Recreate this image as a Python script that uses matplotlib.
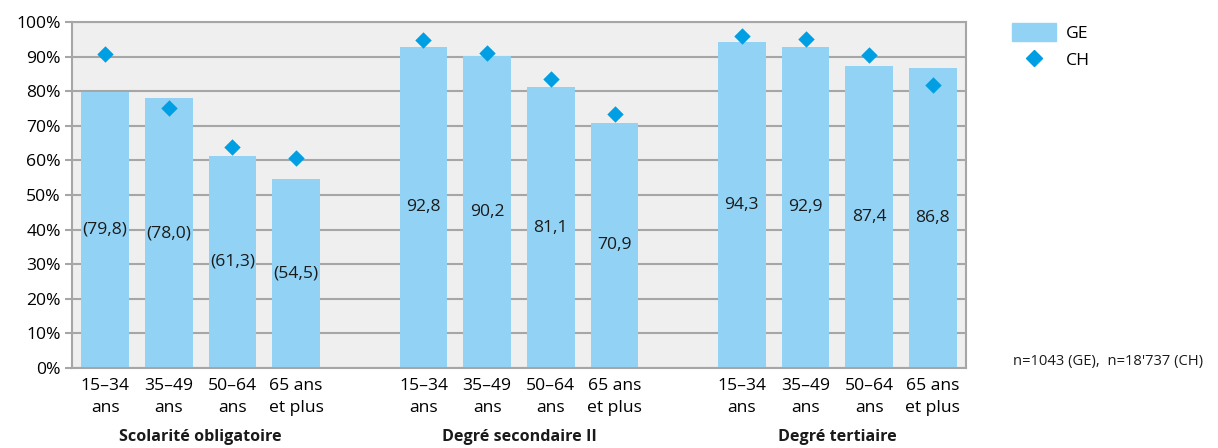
import matplotlib.pyplot as plt
import numpy as np
from matplotlib.patches import Patch
from matplotlib.lines import Line2D

plt.rcParams['font.family'] = ['Open Sans', 'DejaVu Sans']

groups = ['Scolarité obligatoire', 'Degré secondaire II', 'Degré tertiaire']
ages = ['15–34\nans', '35–49\nans', '50–64\nans', '65 ans\net plus']
ge = [[79.8, 78.0, 61.3, 54.5], [92.8, 90.2, 81.1, 70.9], [94.3, 92.9, 87.4, 86.8]]
ch = [[90.8, 75.0, 63.8, 60.6], [94.9, 91.0, 83.4, 73.5], [96.0, 95.2, 90.6, 81.9]]
ge_labels = [['(79,8)', '(78,0)', '(61,3)', '(54,5)'],
             ['92,8', '90,2', '81,1', '70,9'],
             ['94,3', '92,9', '87,4', '86,8']]

bar_col = '#92d3f5'
ch_col = '#009fe3'
fs = 12.6

fig = plt.figure(figsize=(12.18, 4.48), dpi=100)
ax = fig.add_axes([72/1218, 80/448, 894/1218, 346/448])
ax.set_facecolor('#efefef')

xs, ys, cs, labs, ticks = [], [], [], [], []
for g in range(3):
    for i in range(4):
        xs.append(g*5 + i)
        ys.append(ge[g][i])
        cs.append(ch[g][i])
        labs.append(ge_labels[g][i])
        ticks.append(ages[i])

ax.bar(xs, ys, width=0.75, color=bar_col, zorder=2)
ax.scatter(xs, cs, marker='D', s=70, color=ch_col, zorder=3, linewidths=0)
for x, y, t in zip(xs, ys, labs):
    ax.text(x, y/2, t, ha='center', va='center', fontsize=fs, color='#1a1a1a', zorder=4)

ax.set_xlim(-0.52, 13.52)
ax.set_ylim(0, 100)
ax.set_yticks(np.arange(0, 101, 10))
ax.set_yticklabels([f'{v}%' for v in range(0, 101, 10)], fontsize=fs)
ax.yaxis.grid(True, color='#a6a6a6', linewidth=1.5, zorder=0)
ax.set_axisbelow(True)
ax.set_xticks(xs)
ax.set_xticklabels(ticks, fontsize=fs, linespacing=1.55)
ax.tick_params(axis='x', length=0, pad=7)
ax.tick_params(axis='y', length=5, color='#a6a6a6', width=1.5, pad=3)
for s in ax.spines.values():
    s.set_color('#a6a6a6')
    s.set_linewidth(1.5)

for g in range(3):
    ax.text(g*5 + 1.5, -0.2, groups[g], transform=ax.get_xaxis_transform(), ha='center',
            va='center', fontsize=11.6, fontweight='bold', color='#1a1a1a')

handles = [Patch(color=bar_col, label='GE'),
           Line2D([], [], marker='D', color=ch_col, linestyle='none', markersize=8, label='CH')]
fig.legend(handles=handles, loc='upper left', bbox_to_anchor=(996/1218, 1 - 7/448), frameon=False,
           fontsize=fs, handlelength=2.5, handleheight=1.2, labelspacing=0.5, handletextpad=0.6)

fig.text(1013/1218, 1 - 361/448, "n=1043 (GE),  n=18'737 (CH)", fontsize=10.6, va='center', color='#1a1a1a')

fig.savefig('out.png', dpi=100)
